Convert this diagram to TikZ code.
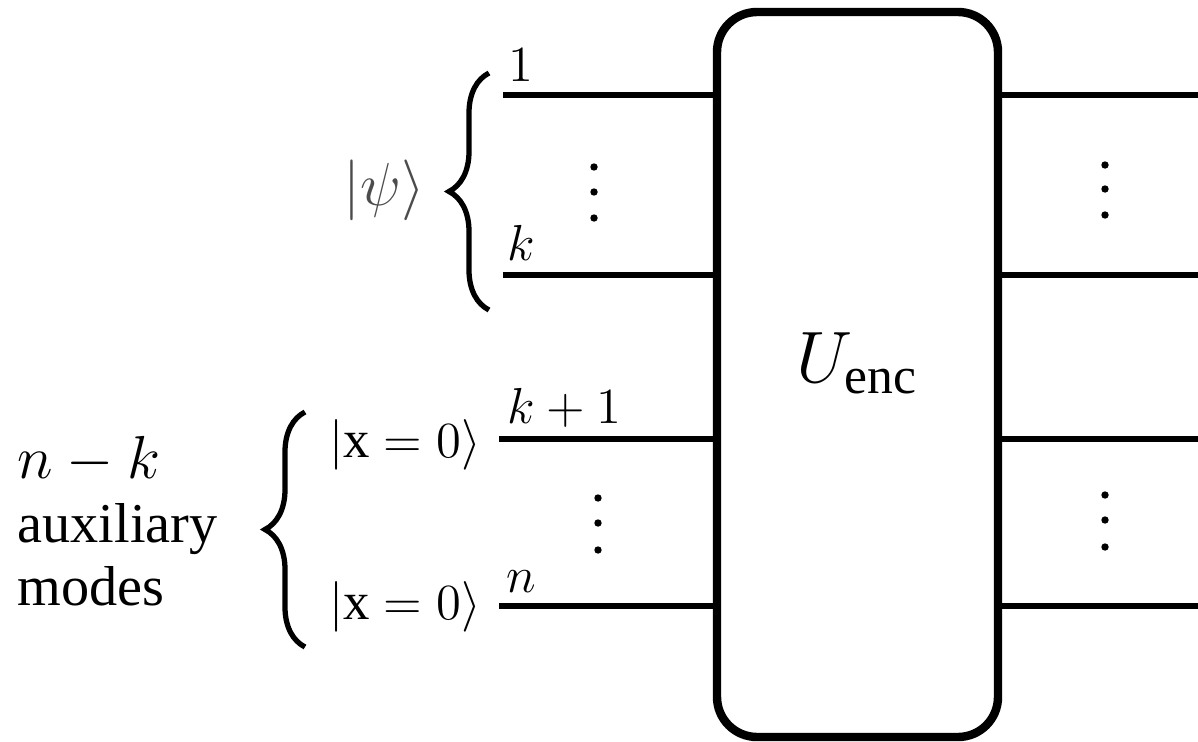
\documentclass[tikz,border=0pt]{standalone}
\usepackage{fontspec}
\setmainfont{Liberation Serif}
\usetikzlibrary{decorations.pathreplacing}
\begin{document}
\begin{tikzpicture}[fil/.style={line width=1.9pt},
  boite/.style={draw,line width=2.4pt,rounded corners=0.4cm,minimum width=2.81cm,minimum height=7.25cm,inner sep=0pt},
  accolade/.style={decorate,decoration={brace,amplitude=0.4cm},line width=1.5pt},
  indice/.style={anchor=base west,inner sep=0pt,font=\fontsize{13.5}{16}\selectfont}]
\useasboundingbox (0,0) rectangle (11.98,7.41);%cadre
\node[boite] (enc) at (8.575,3.665) {};%boite de codage
\node[font=\fontsize{21}{25}\selectfont] (lbl) at (8.57,3.78) {$U_{\mathrm{enc}}$};
\foreach \i/\x/\y in {1/5.03/6.46,2/5.03/4.66,3/4.99/3.02,4/4.99/1.35}{%fils
  \coordinate (e\i) at (\x,\y);
  \coordinate (s\i) at (11.98,\y);
  \draw[fil] (e\i) -- (e\i -| enc.west);
  \draw[fil] (s\i -| enc.east) -- (s\i);
}
\node[indice] (n1) at (5.08,6.60) {$1$};%numeros des modes
\node[indice] (nk) at (5.07,4.81) {$k$};
\node[indice] (nk1) at (5.07,3.18) {$k+1$};
\node[indice] (nn) at (5.06,1.49) {$n$};
\foreach \y in {5.74,5.49,5.23} \fill (5.94,\y) circle (0.037);%points
\foreach \y in {2.43,2.18,1.91} \fill (5.98,\y) circle (0.037);
\foreach \y in {5.76,5.52,5.26} \fill (11.05,\y) circle (0.037);
\foreach \y in {2.46,2.21,1.94} \fill (11.05,\y) circle (0.037);
\draw[accolade] (4.89,4.31) -- (4.89,6.68);%accolade haut
\draw[accolade] (3.05,0.94) -- (3.05,3.29);%accolade bas
\node[text=black!70,font=\fontsize{18}{22}\selectfont] (psi) at (3.84,5.51) {$|\psi\rangle$};
\node[font=\fontsize{15}{18}\selectfont] (x1) at (4.05,2.96) {$|\mathrm{x}=0\rangle$};
\node[font=\fontsize{15}{18}\selectfont] (x2) at (4.05,1.34) {$|\mathrm{x}=0\rangle$};
\node[anchor=north west,align=left,inner sep=0pt,font=\fontsize{16}{18}\selectfont] (aux) at (0.17,3.05) {$n-k$\\auxiliary\\modes};
\end{tikzpicture}
\end{document}
